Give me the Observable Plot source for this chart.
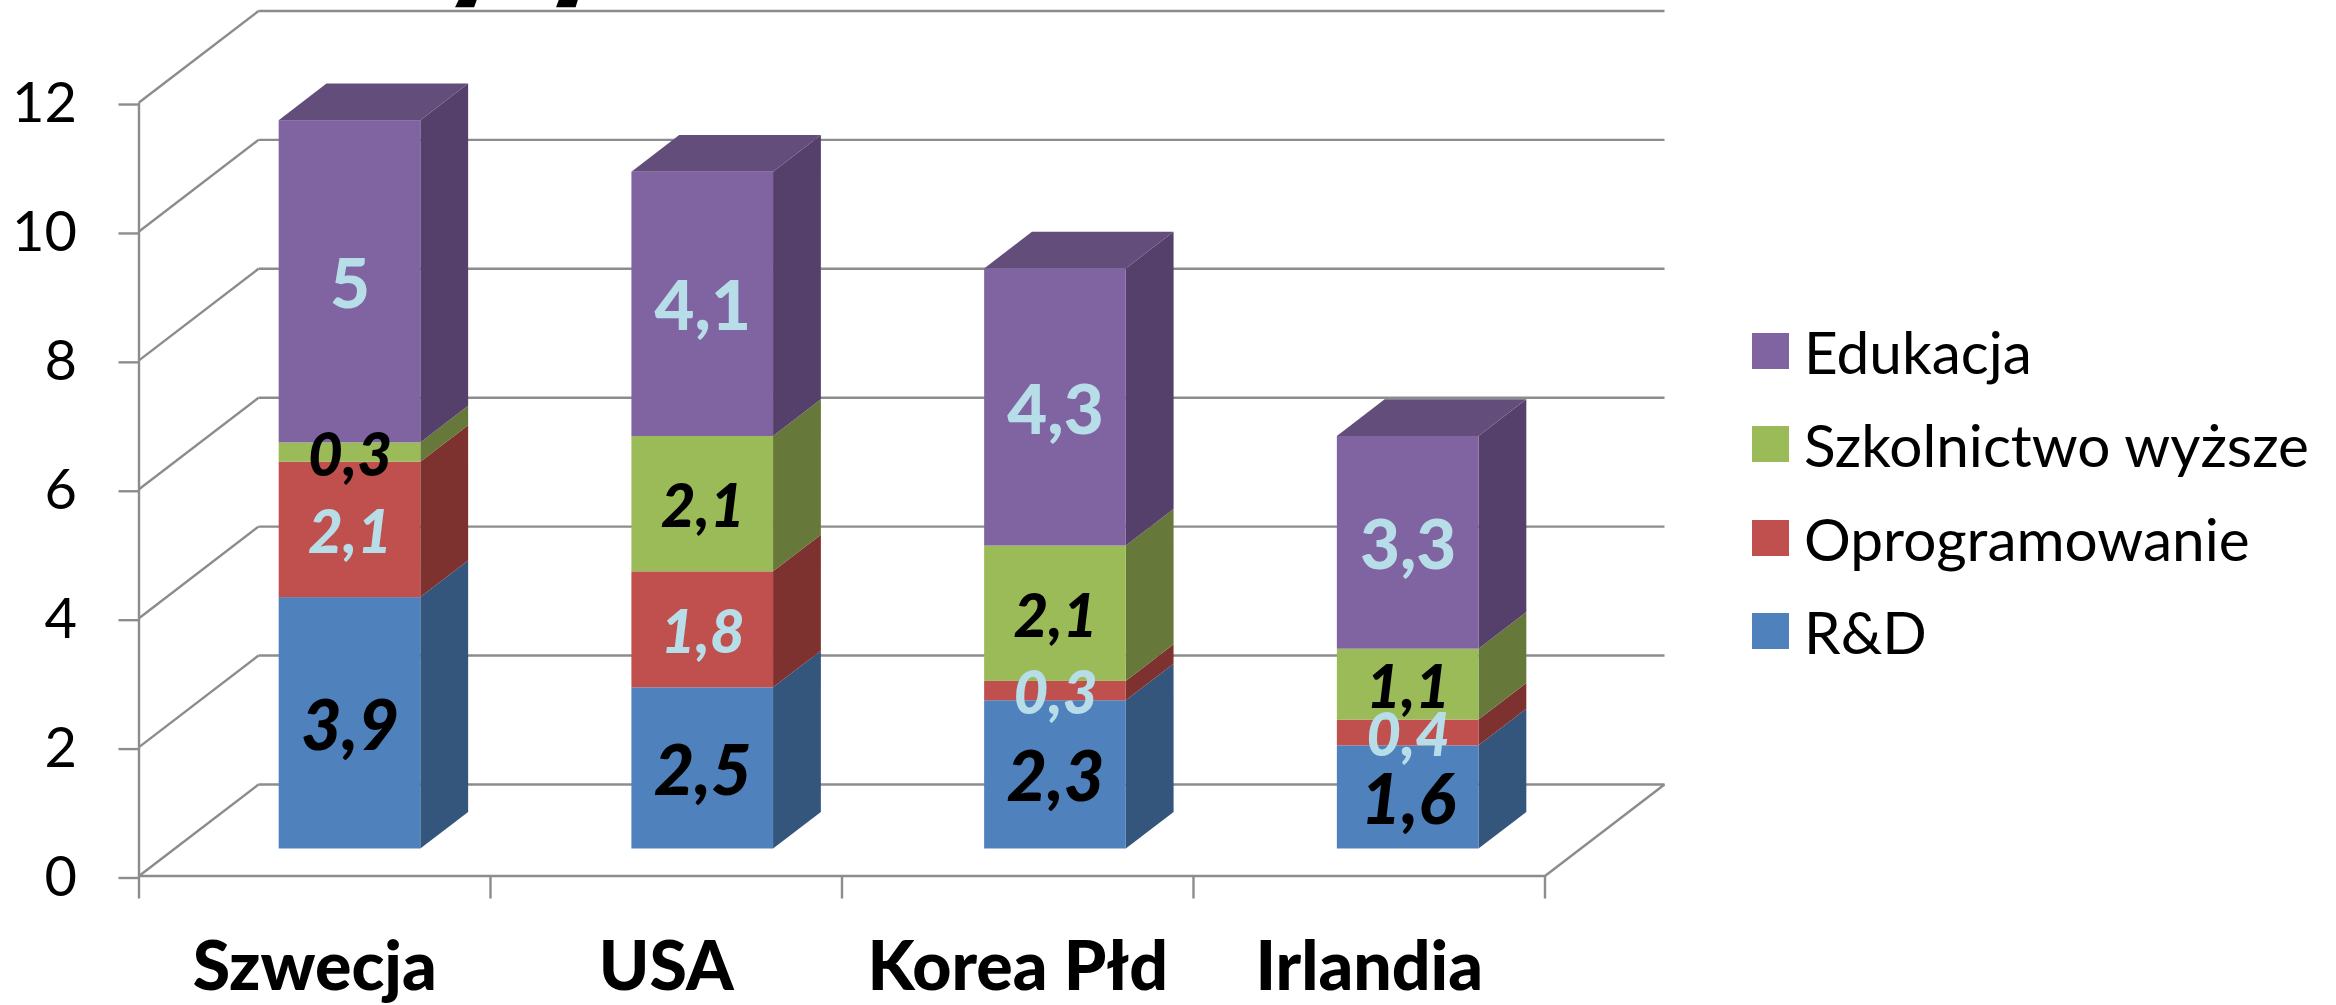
<!DOCTYPE html>
<html lang="pl">
<head>
<meta charset="utf-8">
<script src="https://cdn.jsdelivr.net/npm/d3@7"></script>
<script src="https://cdn.jsdelivr.net/npm/@observablehq/plot@0.6"></script>
<style>
  html, body { margin: 0; background: #fff; overflow: hidden; }
  #chart { position: relative; width: 2336px; height: 1005px; font-family: Lato, sans-serif; overflow: hidden; }
  #chart svg { display: block; }
  .legend { position: absolute; left: 1752px; top: 304px; }
  .legend div { display: flex; align-items: center; height: 93.5px; font-size: 58.5px; color: #000; white-space: nowrap; }
  .legend i { display: block; width: 37px; height: 36px; margin-right: 15px; }
</style>
</head>
<body>
<div id="chart"></div>
<script>
const countries = ["Szwecja", "USA", "Korea Płd", "Irlandia"];
const seriesNames = ["R&D", "Oprogramowanie", "Szkolnictwo wyższe", "Edukacja"];
const rd = [3.9, 2.5, 2.3, 1.6];
const software = [2.1, 1.8, 0.3, 0.4];
const higherEd = [0.3, 2.1, 2.1, 1.1];
const education = [5, 4.1, 4.3, 3.3];
const seriesValues = [rd, software, higherEd, education];
const yTicks = [0, 2, 4, 6, 8, 10, 12];

const frontColors = ["#4F81BD", "#C0504D", "#9BBB59", "#8064A2"];
const sideColors = ["#34557C", "#7E3230", "#66783A", "#54406A"];
const topColor = "#634E7B";
const labelColors = ["#000", "#B7DEE8", "#000", "#B7DEE8"];
const labelSizes = [70, 60, 60, 69];
const labelStyles = ["italic", "italic", "italic", "normal"];

// Slanted ends of the title strokes that stick out below the page's top edge
const titleStrokes = [
  {z: 0, x1: 0.9007, x2: 0.9548, y: 13.47},
  {z: 0, x1: 0.9121, x2: 0.9633, y: 13.6},
  {z: 1, x1: 1.188, x2: 1.2436, y: 13.47},
  {z: 1, x1: 1.1967, x2: 1.2507, y: 13.6}
];

// Oblique projection: a point at depth d (0 front, 1 back) is shifted by
// d * wallX categories to the right and d * wallY value units upward.
const wallX = 0.34;
const wallY = 1.42;
const columnWidth = 0.403;
const columnPitch = 1.0035;
const columnFrontDepth = 0.295;
const columnDepth = 0.4;

const sx = d => d * wallX;
const sy = d => d * wallY;

// Build stacked segments per country and series
const segments = [];
countries.forEach((country, c) => {
  const centre = 0.5 + c * columnPitch;
  let base = 0;
  seriesNames.forEach((name, s) => {
    const value = seriesValues[s][c];
    segments.push({
      country, s, value,
      left: centre - columnWidth / 2 + sx(columnFrontDepth),
      right: centre + columnWidth / 2 + sx(columnFrontDepth),
      lo: base + sy(columnFrontDepth),
      hi: base + value + sy(columnFrontDepth)
    });
    base += value;
  });
});

const sideFaces = segments.flatMap((g, i) => [
  {z: i, s: g.s, x1: g.right, x2: g.right, y1: g.lo, y2: g.hi},
  {z: i, s: g.s, x1: g.right + sx(columnDepth), x2: g.right + sx(columnDepth),
   y1: g.lo + sy(columnDepth), y2: g.hi + sy(columnDepth)}
]);
const topSegments = segments.filter(g => g.s === seriesNames.length - 1);
const topFaces = topSegments.flatMap((g, i) => [
  {z: i, x1: g.left, x2: g.right, y1: g.hi, y2: g.hi},
  {z: i, x1: g.left + sx(columnDepth), x2: g.right + sx(columnDepth),
   y1: g.hi + sy(columnDepth), y2: g.hi + sy(columnDepth)}
]);

const gridStyle = {stroke: "#8c8c8c", strokeWidth: 2.4};
const n = countries.length;

const plot = Plot.plot({
  width: 2336,
  height: 1005,
  marginLeft: 138.5,
  marginRight: 2336 - 1664,
  marginTop: 10.5,
  marginBottom: 129.5,
  style: {background: "transparent", fontFamily: "Lato, sans-serif", color: "#000"},
  x: {domain: [0, n + wallX], label: null},
  y: {domain: [0, 12 + wallY], label: null},
  marks: [
    // Walls and floor of the chart box
    Plot.link(yTicks, {x1: 0, x2: wallX, y1: d => d, y2: d => d + wallY, ...gridStyle}),
    Plot.link(yTicks, {x1: wallX, x2: n + wallX, y1: d => d + wallY, y2: d => d + wallY, ...gridStyle}),
    Plot.link([0], {x1: 0, x2: 0, y1: 0, y2: 12, ...gridStyle}),
    Plot.link([0], {x1: 0, x2: n, y1: 0, y2: 0, ...gridStyle}),
    Plot.link([0], {x1: n, x2: n + wallX, y1: 0, y2: wallY, ...gridStyle}),

    Plot.areaX(titleStrokes, {x1: "x1", x2: "x2", y: "y", z: "z", fill: "#000", curve: "linear"}),

    // Axes
    Plot.axisY({
      ticks: yTicks, tickSize: 20, tickPadding: 42, fontSize: 56, dy: 2,
      stroke: "#8c8c8c", strokeWidth: 2.4, label: null, tickFormat: d => String(d)
    }),
    Plot.axisX({
      ticks: d3.range(n + 1), tickSize: 23, tickFormat: () => "",
      stroke: "#8c8c8c", strokeWidth: 2.4, label: null
    }),
    Plot.axisX({
      ticks: countries.map((_, i) => i + 0.5), tickSize: 0, tickPadding: 66,
      tickFormat: d => countries[Math.floor(d)],
      fontSize: 68, fontWeight: 900, label: null
    }),

    // Column faces
    Plot.area(sideFaces, {x1: "x1", x2: "x2", y1: "y1", y2: "y2", z: "z", fill: d => sideColors[d.s], curve: "linear"}),
    Plot.area(topFaces, {x1: "x1", x2: "x2", y1: "y1", y2: "y2", z: "z", fill: topColor, curve: "linear"}),
    Plot.rect(segments, {x1: "left", x2: "right", y1: "lo", y2: "hi", fill: d => frontColors[d.s]}),

    // Value labels, one group per series so each keeps its own type style
    ...seriesNames.map((_, s) => Plot.text(segments.filter(g => g.s === s), {
      x: g => (g.left + g.right) / 2,
      y: g => (g.lo + g.hi) / 2,
      text: g => String(g.value).replace(".", ","),
      fill: labelColors[s],
      fontSize: labelSizes[s],
      fontStyle: labelStyles[s],
      fontWeight: 900,
      dy: 4
    }))
  ]
});

const chart = document.getElementById("chart");
chart.appendChild(plot);

// Legend lists the series from top of the stack to bottom
const legend = document.createElement("div");
legend.className = "legend";
seriesNames.map((name, s) => ({name, color: frontColors[s]})).reverse().forEach(({name, color}) => {
  const row = document.createElement("div");
  const swatch = document.createElement("i");
  swatch.style.background = color;
  row.append(swatch, document.createTextNode(name));
  legend.appendChild(row);
});
chart.appendChild(legend);
</script>
</body>
</html>
